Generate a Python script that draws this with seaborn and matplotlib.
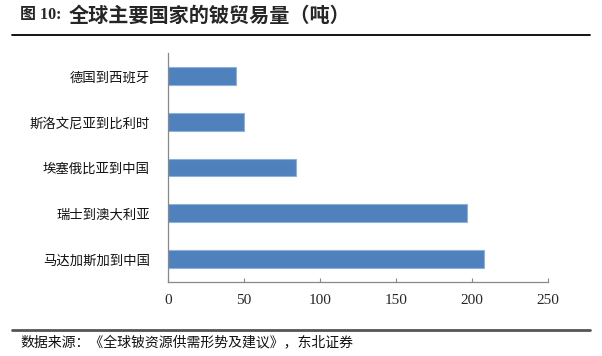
import matplotlib
matplotlib.use("Agg")
import matplotlib.pyplot as plt
import seaborn as sns
import pandas as pd
from matplotlib.lines import Line2D

categories = ["德国到西班牙", "斯洛文尼亚到比利时", "埃塞俄比亚到中国", "瑞士到澳大利亚", "马达加斯加到中国"]
values = [45, 50, 84, 197, 208]
xticks = [0, 50, 100, 150, 200, 250]

sns.set_theme(style="white")
plt.rcParams['font.family'] = ['Noto Sans CJK SC', 'DejaVu Sans']

df = pd.DataFrame({"route": categories, "tons": values})

W, H = 602, 356
fig = plt.figure(figsize=(W / 100, H / 100), dpi=100)
ax = fig.add_axes([168 / W, 1 - 282 / H, (548 - 168) / W, (282 - 53) / H])

sns.barplot(data=df, x="tons", y="route", orient="h", color="#4F81BD",
            width=0.39, edgecolor="#8fb0d8", linewidth=0.8, saturation=1, ax=ax)

ax.set_xlim(0, 250)
ax.set_ylim(4.5, -0.5)
ax.set_xticks(xticks)
ax.set_xticklabels([str(t) for t in xticks], fontfamily=["Liberation Serif"], fontsize=11)
ax.set_xlabel("")
ax.set_ylabel("")
for lab in ax.get_yticklabels():
    lab.set_fontsize(9.6)
    lab.set_color("#111111")
ax.tick_params(axis="x", direction="in", length=3, width=0.8, color="#888888", pad=9, bottom=True)
ax.tick_params(axis="y", length=0, pad=13)
for s in ["top", "right"]:
    ax.spines[s].set_visible(False)
for s in ["left", "bottom"]:
    ax.spines[s].set_color("#888888")
    ax.spines[s].set_linewidth(0.9)

fig.text(20 / W, 1 - 15 / H, "图 10:", fontsize=11.5, fontweight="bold",
         va="center", ha="left", family=["Liberation Serif", "Noto Sans CJK SC"])
fig.text(69 / W, 1 - 15 / H, "全球主要国家的铍贸易量（吨）", fontsize=14.5, fontweight="bold",
         va="center", ha="left", family=["Noto Sans CJK SC", "DejaVu Sans"])
fig.add_artist(Line2D([12 / W, 590 / W], [1 - 35 / H, 1 - 35 / H], color="black", lw=1.3,
                      transform=fig.transFigure))
fig.add_artist(Line2D([12 / W, 590 / W], [1 - 330 / H, 1 - 330 / H], color="#555555", lw=2,
                      transform=fig.transFigure))
fig.text(20 / W, 1 - 342 / H, "数据来源：《全球铍资源供需形势及建议》，东北证券", fontsize=10,
         va="center", ha="left", color="#111111")

fig.savefig("out.png", dpi=100)
